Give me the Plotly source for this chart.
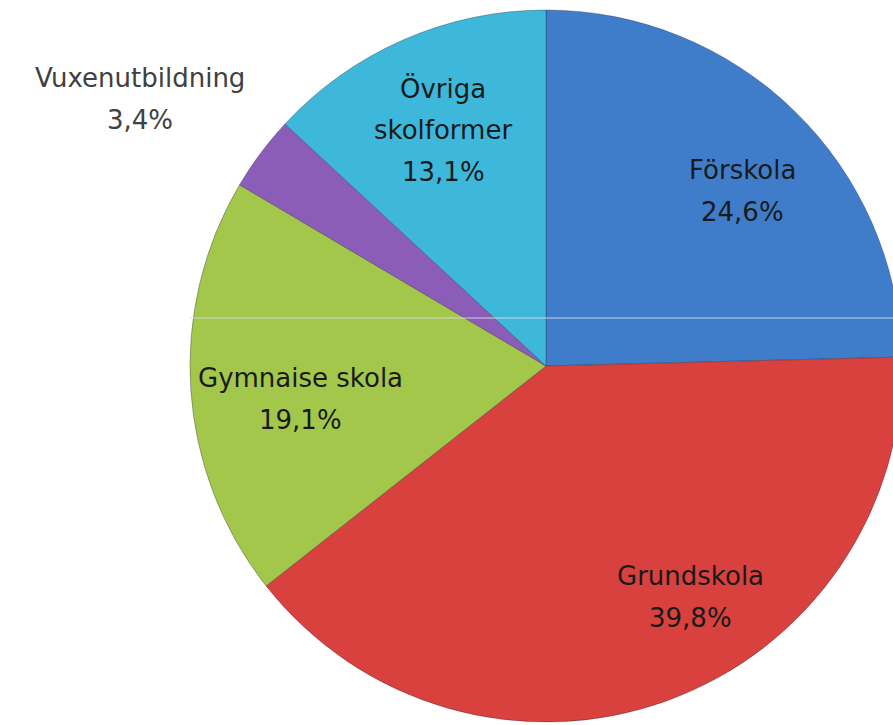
import plotly.graph_objects as go

# Data
categories = ["Förskola", "Grundskola", "Gymnaiseskola", "Vuxenutbildning", "Övriga skolformer"]
values = [24.6, 39.8, 19.1, 3.4, 13.1]
name_lines = [["Förskola"], ["Grundskola"], ["Gymnaise skola"], ["Vuxenutbildning"], ["Övriga", "skolformer"]]
colors = ["#3F7DCB", "#D8413D", "#A3C74B", "#8B5DB9", "#3DB8DB"]

W, H = 905, 725

def px_x(x):
    return x / W

def px_y(y):
    return (H - y) / H

fig = go.Figure()
fig.add_trace(go.Pie(
    labels=categories,
    values=values,
    sort=False,
    direction="clockwise",
    rotation=0,
    marker=dict(colors=colors, line=dict(color="rgba(40,40,60,0.35)", width=1)),
    textinfo="none",
    hoverinfo="skip",
    showlegend=False,
    domain=dict(x=[px_x(190), px_x(902)], y=[px_y(722), px_y(10)]),
))

# label positions (pixel centre of first line), line spacing 42 px
label_pos = [(742, 170), (690, 576), (300, 378), (140, 78), (443, 88)]
text_colors = ["#1a1a1a", "#1a1a1a", "#1a1a1a", "#404040", "#1a1a1a"]
annotations = []
for lines, v, (lx, ly), tc in zip(name_lines, values, label_pos, text_colors):
    all_lines = lines + [f"{v:.1f}".replace(".", ",") + "%"]
    for i, t in enumerate(all_lines):
        annotations.append(dict(
            x=px_x(lx), y=px_y(ly + 42 * i), xref="paper", yref="paper",
            text=t, showarrow=False, xanchor="center", yanchor="middle",
            font=dict(family="DejaVu Sans", size=26, color=tc),
        ))

fig.update_layout(
    width=W, height=H,
    margin=dict(l=0, r=0, t=0, b=0),
    paper_bgcolor="white", plot_bgcolor="white",
    annotations=annotations,
    shapes=[dict(type="line", xref="paper", yref="paper",
                 x0=px_x(190), x1=1, y0=px_y(318), y1=px_y(318),
                 line=dict(color="rgba(215,220,230,0.9)", width=1), layer="above")],
)

fig.write_html("out.html", config={"displayModeBar": False},
               post_script="document.body.style.margin='0';document.body.style.overflow='hidden';")
